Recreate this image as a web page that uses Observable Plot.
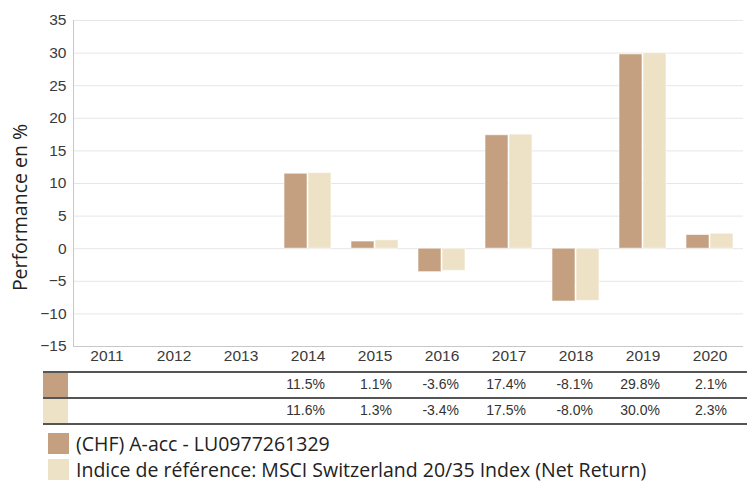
<!DOCTYPE html>
<html>
<head>
<meta charset="utf-8">
<script src="https://cdn.jsdelivr.net/npm/d3@7"></script>
<script src="https://cdn.jsdelivr.net/npm/@observablehq/plot@0.6"></script>
<style>
  body { margin: 0; background: #fff; }
  #wrap { position: relative; width: 747px; height: 482px; overflow: hidden; font-family: "Liberation Sans", Arial, sans-serif; }
  #table { position: absolute; left: 0; top: 371px; width: 747px; height: 54px; }
  .hline { position: absolute; left: 43px; right: 0; background: #555; }
  .sw { position: absolute; left: 43px; width: 25px; }
  .val { position: absolute; font-size: 14px; color: #333; transform: translateX(-100%); white-space: nowrap; }
  #legend { position: absolute; left: 48px; top: 433px; font-family: "Open Sans", "Noto Sans", sans-serif; font-size: 19.5px; color: #222; }
  .li { display: flex; align-items: center; height: 21px; margin-bottom: 5px; line-height: 21px; }
  .lsw { width: 21px; height: 21px; margin-right: 7px; flex: none; }
</style>
</head>
<body>
<div id="wrap"></div>
<script>
const years = ["2011","2012","2013","2014","2015","2016","2017","2018","2019","2020"];
const seriesNames = ["(CHF) A-acc - LU0977261329", "Indice de référence: MSCI Switzerland 20/35 Index (Net Return)"];
const seriesKeys = ["fund", "bench"];
const colors = ["#c4a080", "#eee2c6"];
const fundValues  = [null, null, null, 11.5, 1.1, -3.6, 17.4, -8.1, 29.8, 2.1];
const benchValues = [null, null, null, 11.6, 1.3, -3.4, 17.5, -8.0, 30.0, 2.3];
const yTicks = [-15, -10, -5, 0, 5, 10, 15, 20, 25, 30, 35];
const yLabel = "Performance en %";

const rows = [];
years.forEach((y, i) => {
  rows.push({year: y, series: "fund", value: fundValues[i]});
  rows.push({year: y, series: "bench", value: benchValues[i]});
});

const chart = Plot.plot({
  width: 747,
  height: 372,
  marginTop: 20,
  marginBottom: 26,
  marginLeft: 69,
  marginRight: 0,
  style: {fontFamily: "'Liberation Sans', Arial, sans-serif", fontSize: "15.5px", color: "#333", background: "#fff"},
  fx: {domain: years, padding: 0, label: null},
  x: {domain: seriesKeys, axis: null, paddingInner: 0.04, paddingOuter: 0.41},
  y: {domain: [-15, 35], ticks: yTicks, label: null},
  color: {domain: seriesKeys, range: colors},
  marks: [
    Plot.gridY(yTicks, {stroke: "#e6e6e6", strokeOpacity: 1}),
    Plot.ruleY([-15], {stroke: "#c8c8c8"}),
    Plot.axisY({ticks: yTicks, tickSize: 0, tickPadding: 7, fontSize: 15.5, label: null, fill: "#3a3a3a", facetAnchor: "left"}),
    Plot.axisFx({anchor: "bottom", tickSize: 0, tickPadding: 3, fontSize: 15.5, label: null, fill: "#3a3a3a"}),
    Plot.frame({anchor: "left", stroke: "#c8c8c8", facetAnchor: "left"}),
    Plot.barY(rows, {fx: "year", x: "series", y: "value", fill: "series", stroke: "#fff", strokeOpacity: 0.6, strokeWidth: 1}),
    Plot.text([yLabel], {frameAnchor: "left", textAnchor: "middle", rotate: -90, dx: -53, dy: 24, fontSize: 19.5, fill: "#222", fontFamily: "'Open Sans', 'Noto Sans', sans-serif", facetAnchor: "left"})
  ]
});

const wrap = document.getElementById("wrap");
wrap.appendChild(chart);

// Table below the chart, positioned with the chart's own fx scale
const fx = chart.scale("fx");
const table = document.createElement("div");
table.id = "table";
const lineTops = [0, 26, 52];
const lineH = [2, 1.5, 2];
lineTops.forEach((t, i) => {
  const l = document.createElement("div");
  l.className = "hline";
  l.style.top = t + "px";
  l.style.height = lineH[i] + "px";
  table.appendChild(l);
});
[fundValues, benchValues].forEach((vals, r) => {
  const sw = document.createElement("div");
  sw.className = "sw";
  sw.style.top = (lineTops[r] + lineH[r]) + "px";
  sw.style.height = (lineTops[r + 1] - lineTops[r] - lineH[r]) + "px";
  sw.style.background = colors[r];
  table.appendChild(sw);
  vals.forEach((v, i) => {
    if (v == null) return;
    const s = document.createElement("span");
    s.className = "val";
    s.textContent = v.toFixed(1) + "%";
    s.style.left = (fx.apply(years[i]) + fx.bandwidth - 16) + "px";
    s.style.top = (lineTops[r] + 5) + "px";
    table.appendChild(s);
  });
});
wrap.appendChild(table);

const legend = document.createElement("div");
legend.id = "legend";
seriesNames.forEach((name, i) => {
  const item = document.createElement("div");
  item.className = "li";
  const sw = document.createElement("div");
  sw.className = "lsw";
  sw.style.background = colors[i];
  const t = document.createElement("span");
  t.textContent = name;
  item.appendChild(sw);
  item.appendChild(t);
  legend.appendChild(item);
});
wrap.appendChild(legend);
</script>
</body>
</html>
